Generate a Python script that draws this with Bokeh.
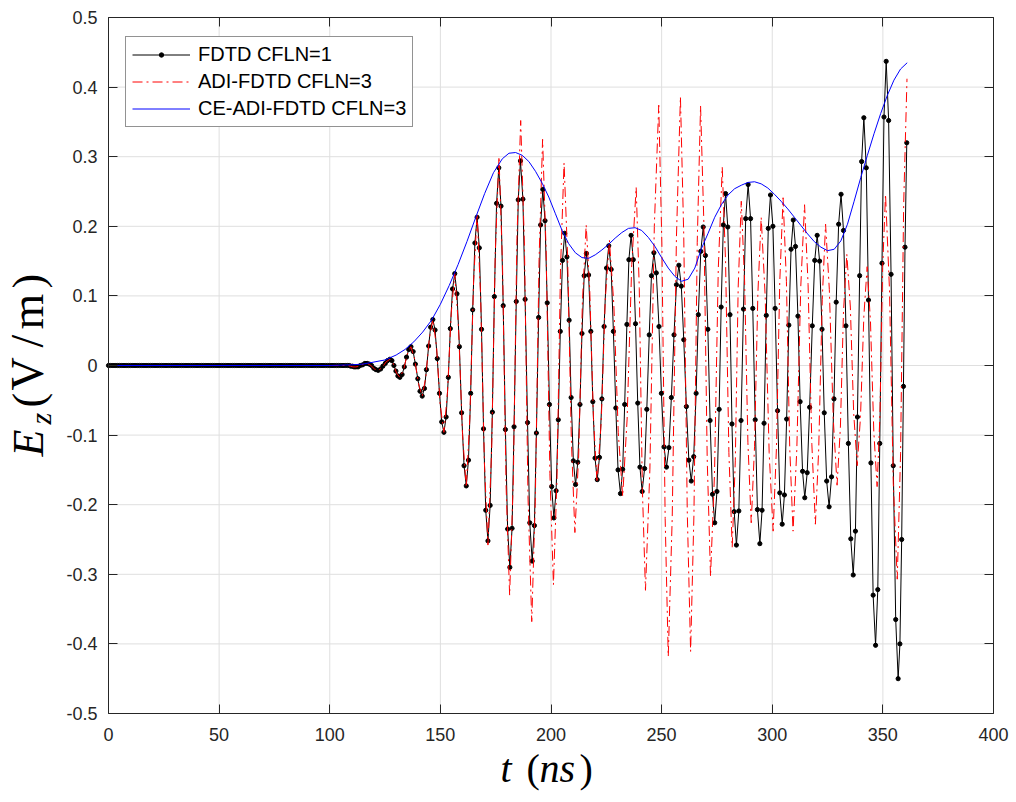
from bokeh.plotting import figure
from bokeh.models import (FixedTicker, LinearAxis, Label, Legend, LegendItem,
                          Range1d)
from bokeh.embed import file_html
from bokeh.resources import INLINE

# ---------------- data ----------------
x_ticks = [0, 50, 100, 150, 200, 250, 300, 350, 400]
y_ticks = [-0.5, -0.4, -0.3, -0.2, -0.1, 0.0, 0.1, 0.2, 0.3, 0.4, 0.5]
y_tick_labels = ["-0.5", "-0.4", "-0.3", "-0.2", "-0.1", "0",
                 "0.1", "0.2", "0.3", "0.4", "0.5"]

# FDTD CFLN=1 : quiet part (t in ns, Ez = 0)
fdtd_quiet_t = list(range(0, 108))
fdtd_quiet_v = [0.0] * 108

# FDTD CFLN=1 : active part
fdtd_t = [
    108.0, 108.8, 109.5, 110.3, 111.0,
    111.8, 112.8, 113.8, 114.9, 115.9,
    116.9, 117.9, 118.9, 119.9, 120.9,
    121.9, 123.0, 124.0, 125.1, 126.1,
    127.2, 128.1, 129.0, 129.9, 130.8,
    131.7, 132.7, 133.7, 134.7, 135.7,
    136.7, 137.7, 138.7, 139.8, 140.8,
    141.8, 142.8, 143.7, 144.7, 145.6,
    146.6, 147.6, 148.6, 149.6, 150.6,
    151.6, 152.6, 153.6, 154.5, 155.5,
    156.5, 157.5, 158.6, 159.6, 160.7,
    161.7, 162.7, 163.7, 164.6, 165.6,
    166.6, 167.6, 168.6, 169.5, 170.5,
    171.5, 172.5, 173.5, 174.4, 175.4,
    176.4, 177.4, 178.4, 179.4, 180.4,
    181.4, 182.4, 183.3, 184.3, 185.2,
    186.2, 187.3, 188.3, 189.4, 190.4,
    191.5, 192.5, 193.4, 194.4, 195.3,
    196.3, 197.3, 198.3, 199.3, 200.3,
    201.3, 202.3, 203.3, 204.2, 205.2,
    206.2, 207.2, 208.2, 209.1, 210.1,
    211.1, 212.1, 213.1, 214.0, 215.0,
    216.0, 217.0, 218.0, 218.9, 219.9,
    220.9, 221.9, 223.0, 224.0, 225.1,
    226.1, 227.2, 228.2, 229.3, 230.3,
    231.4, 232.4, 233.3, 234.3, 235.2,
    236.2, 237.2, 238.2, 239.2, 240.2,
    241.2, 242.3, 243.3, 244.4, 245.4,
    246.5, 247.6, 248.8, 249.9, 251.1,
    252.2, 253.3, 254.4, 255.6, 256.7,
    257.8, 258.9, 260.0, 261.2, 262.3,
    263.4, 264.5, 265.6, 266.6, 267.7,
    268.8, 269.8, 270.9, 271.9, 273.0,
    274.0, 275.0, 276.0, 276.9, 277.9,
    278.9, 279.9, 280.9, 281.8, 282.8,
    283.8, 284.9, 285.9, 287.0, 288.0,
    289.1, 290.2, 291.2, 292.3, 293.3,
    294.4, 295.4, 296.3, 297.3, 298.2,
    299.2, 300.3, 301.3, 302.4, 303.4,
    304.5, 305.5, 306.5, 307.5, 308.5,
    309.5, 310.5, 311.6, 312.6, 313.7,
    314.7, 315.8, 316.9, 318.1, 319.2,
    320.3, 321.4, 322.5, 323.5, 324.6,
    325.7, 326.8, 327.9, 328.9, 330.0,
    331.1, 332.2, 333.3, 334.4, 335.5,
    336.6, 337.6, 338.5, 339.5, 340.4,
    341.4, 342.5, 343.5, 344.6, 345.6,
    346.7, 347.7, 348.6, 349.6, 350.5,
    351.5, 352.6, 353.7, 354.7, 355.8,
    356.9, 357.7, 358.5, 359.3, 360.0, 360.8,
]
fdtd_v = [
    0.0, 0.0, -0.001, -0.001, -0.002,
    -0.002, -0.002, 0.0, 0.001, 0.003,
    0.003, 0.002, 0.0, -0.004, -0.006,
    -0.007, -0.005, -0.001, 0.003, 0.007,
    0.009, 0.007, 0.0, -0.008, -0.015,
    -0.017, -0.013, -0.002, 0.012, 0.023,
    0.027, 0.020, 0.002, -0.019, -0.037,
    -0.044, -0.033, -0.006, 0.028, 0.055,
    0.066, 0.051, 0.010, -0.040, -0.081,
    -0.096, -0.074, -0.017, 0.053, 0.110,
    0.132, 0.103, 0.027, -0.068, -0.144,
    -0.173, -0.136, -0.040, 0.080, 0.176,
    0.213, 0.169, 0.052, -0.091, -0.208,
    -0.252, -0.201, -0.067, 0.099, 0.233,
    0.284, 0.229, 0.086, -0.092, -0.235,
    -0.290, -0.234, -0.088, 0.092, 0.238,
    0.294, 0.239, 0.095, -0.082, -0.226,
    -0.281, -0.230, -0.097, 0.069, 0.202,
    0.253, 0.208, 0.090, -0.056, -0.174,
    -0.219, -0.180, -0.078, 0.049, 0.151,
    0.190, 0.156, 0.065, -0.046, -0.137,
    -0.171, -0.139, -0.056, 0.046, 0.129,
    0.161, 0.130, 0.049, -0.052, -0.133,
    -0.164, -0.132, -0.048, 0.056, 0.140,
    0.172, 0.138, 0.049, -0.061, -0.150,
    -0.184, -0.149, -0.056, 0.059, 0.152,
    0.187, 0.152, 0.060, -0.054, -0.146,
    -0.181, -0.148, -0.063, 0.044, 0.129,
    0.162, 0.133, 0.056, -0.040, -0.117,
    -0.146, -0.118, -0.046, 0.044, 0.116,
    0.144, 0.114, 0.037, -0.059, -0.136,
    -0.166, -0.131, -0.040, 0.073, 0.164,
    0.199, 0.158, 0.052, -0.079, -0.185,
    -0.226, -0.181, -0.063, 0.084, 0.202,
    0.247, 0.199, 0.073, -0.084, -0.210,
    -0.258, -0.209, -0.079, 0.081, 0.211,
    0.260, 0.211, 0.082, -0.078, -0.207,
    -0.256, -0.208, -0.083, 0.072, 0.197,
    0.245, 0.200, 0.082, -0.065, -0.183,
    -0.228, -0.186, -0.077, 0.058, 0.167,
    0.209, 0.171, 0.071, -0.052, -0.152,
    -0.190, -0.154, -0.060, 0.057, 0.151,
    0.187, 0.150, 0.052, -0.068, -0.166,
    -0.203, -0.160, -0.048, 0.091, 0.203,
    0.246, 0.194, 0.057, -0.112, -0.249,
    -0.301, -0.238, -0.074, 0.129, 0.293,
    0.356, 0.284, 0.094, -0.140, -0.330,
    -0.402, -0.322, -0.112, 0.147, 0.357,
    0.437, 0.352, 0.131, -0.144, -0.365,
    -0.450, -0.400, -0.250, -0.030, 0.170, 0.320,
]

# ADI-FDTD CFLN=3
adi_t = [
    0.0,
    108.0, 109.3, 110.5, 111.8, 113.5, 115.2, 116.9, 118.6, 120.2,
    121.9, 123.7, 125.4, 127.2, 128.7, 130.2, 131.7, 133.4, 135.0,
    136.7, 138.4, 140.1, 141.8, 143.4, 145.0, 146.6, 148.3, 149.9,
    151.6, 153.2, 154.9, 156.5, 158.2, 160.0, 161.7, 163.3, 165.0,
    166.6, 168.2, 169.9, 171.5, 173.2, 174.8, 176.5, 178.1, 179.7,
    181.3, 183.0, 184.6, 186.3, 188.0, 189.6, 191.3, 192.9, 194.6,
    196.2, 197.8, 199.5, 201.1, 202.7, 204.3, 205.9, 207.5, 209.2,
    210.8, 212.5, 214.2, 215.9, 217.5, 219.2, 220.8, 222.7, 224.5,
    226.4, 228.4, 230.4, 232.4, 234.4, 236.5, 238.5, 239.9, 241.3,
    242.7, 244.7, 246.7, 248.7, 250.1, 251.6, 253.0, 254.8, 256.7,
    258.5, 260.0, 261.6, 263.1, 264.6, 266.1, 267.6, 269.1, 270.6,
    272.1, 273.9, 275.6, 277.4, 278.9, 280.4, 281.9, 283.3, 284.6,
    286.0, 287.5, 289.0, 290.5, 292.0, 293.5, 295.0, 296.8, 298.6,
    300.4, 301.9, 303.4, 304.9, 306.4, 307.9, 309.4, 311.1, 312.9,
    314.6, 316.2, 317.9, 319.5, 321.0, 322.6, 324.1, 325.8, 327.6,
    329.3, 330.8, 332.2, 333.7, 335.3, 336.8, 338.4, 339.9, 341.4,
    342.9, 344.4, 345.9, 347.4, 348.7, 349.9, 351.2, 353.0, 354.7,
    356.5, 358.0, 359.4, 360.9,
]
adi_v = [
    0.0,
    0.0, -0.001, -0.002, -0.002, -0.001, 0.002, 0.003, 0.0, -0.005,
    -0.007, -0.003, 0.005, 0.009, 0.003, -0.011, -0.017, -0.006, 0.016,
    0.027, 0.009, -0.026, -0.044, -0.017, 0.039, 0.066, 0.026, -0.056,
    -0.096, -0.039, 0.075, 0.132, 0.055, -0.098, -0.175, -0.077, 0.120,
    0.218, 0.099, -0.139, -0.258, -0.119, 0.161, 0.300, 0.143, -0.173,
    -0.330, -0.160, 0.182, 0.352, 0.172, -0.188, -0.368, -0.195, 0.152,
    0.325, 0.165, -0.155, -0.315, -0.164, 0.140, 0.291, 0.158, -0.107,
    -0.240, -0.130, 0.092, 0.202, 0.110, -0.076, -0.168, -0.081, 0.093,
    0.180, 0.088, -0.096, -0.188, -0.077, 0.145, 0.256, 0.111, -0.178,
    -0.323, -0.149, 0.200, 0.374, 0.176, -0.220, -0.418, -0.217, 0.185,
    0.386, 0.187, -0.212, -0.411, -0.215, 0.177, 0.373, 0.204, -0.134,
    -0.303, -0.156, 0.138, 0.285, 0.149, -0.125, -0.261, -0.137, 0.112,
    0.236, 0.121, -0.111, -0.226, -0.116, 0.103, 0.213, 0.100, -0.125,
    -0.238, -0.118, 0.121, 0.241, 0.121, -0.118, -0.238, -0.121, 0.114,
    0.231, 0.116, -0.113, -0.228, -0.120, 0.095, 0.203, 0.109, -0.078,
    -0.172, -0.089, 0.077, 0.160, 0.084, -0.068, -0.144, -0.073, 0.071,
    0.142, 0.063, -0.095, -0.174, -0.069, 0.141, 0.246, 0.108, -0.169,
    -0.307, -0.127, 0.232, 0.412,
]

# CE-ADI-FDTD CFLN=3
ce_t = [0, 100, 105, 110, 115, 120, 125, 130, 134, 138, 142, 146, 150, 154,
        158, 162, 166, 170, 174, 178, 181, 184, 187, 190, 193, 196, 199, 202,
        205, 208, 211, 214, 217, 220, 223, 226, 229, 232, 235, 238, 241, 244,
        247, 250, 253, 256, 259, 262, 265, 268, 271, 274, 277, 280, 283, 286,
        289, 292, 295, 298, 301, 304, 307, 310, 313, 316, 319, 322, 325, 328,
        331, 334, 337, 340, 343, 346, 349, 352, 355, 358, 361]
ce_v = [0.0, 0.0, 0.0005, 0.001, 0.002, 0.005, 0.008, 0.015, 0.023, 0.034,
        0.048, 0.065, 0.088, 0.115, 0.145, 0.178, 0.213, 0.247, 0.277, 0.297,
        0.305, 0.306, 0.302, 0.293, 0.279, 0.262, 0.242, 0.218, 0.194, 0.175,
        0.162, 0.155, 0.154, 0.159, 0.166, 0.174, 0.183, 0.191, 0.197, 0.198,
        0.194, 0.184, 0.171, 0.155, 0.140, 0.128, 0.121, 0.124, 0.140, 0.168,
        0.190, 0.213, 0.231, 0.245, 0.254, 0.259, 0.263, 0.264, 0.261, 0.255,
        0.246, 0.236, 0.225, 0.213, 0.201, 0.189, 0.178, 0.170, 0.165, 0.167,
        0.179, 0.203, 0.236, 0.270, 0.302, 0.333, 0.362, 0.388, 0.410, 0.426,
        0.435]

series_names = ["FDTD CFLN=1", "ADI-FDTD CFLN=3", "CE-ADI-FDTD CFLN=3"]

# ---------------- layout (pixels) ----------------
W, H = 1016, 802
BOX_L, BOX_R, BOX_T, BOX_B = 108, 993, 17, 713
x0, x1 = x_ticks[0], x_ticks[-1]
y0, y1 = y_ticks[0], y_ticks[-1]
sx = (BOX_R - BOX_L) / (x1 - x0)      # px per ns
sy = (BOX_B - BOX_T) / (y1 - y0)      # px per V/m

# The frame fills the whole canvas so that the axis titles (text labels)
# can sit outside the axes box without being clipped.
p = figure(width=W, height=H,
           x_range=Range1d(x0 - BOX_L / sx, x1 + (W - BOX_R) / sx),
           y_range=Range1d(y0 - (H - BOX_B) / sy, y1 + BOX_T / sy),
           output_backend="svg", toolbar_location=None,
           x_axis_type=None, y_axis_type=None,
           min_border_left=0, min_border_right=0, min_border_top=0,
           min_border_bottom=0)
p.background_fill_color = "white"
p.border_fill_color = "white"
p.outline_line_color = None
p.grid.visible = False

AX = "#262626"
GRID = "#dfdfdf"

# grid lines at the tick positions, inside the axes box
p.segment(x0=x_ticks[1:-1], y0=y0, x1=x_ticks[1:-1], y1=y1,
          line_color=GRID, line_width=1)
p.segment(x0=x0, y0=y_ticks[1:-1], x1=x1, y1=y_ticks[1:-1],
          line_color=GRID, line_width=1)


def style_axis(ax, ticks, bounds, show_labels):
    ax.ticker = FixedTicker(ticks=ticks)
    ax.bounds = bounds
    ax.axis_line_color = AX
    ax.axis_line_width = 1
    ax.major_tick_line_color = AX
    ax.major_tick_line_width = 1
    ax.major_tick_in = 9
    ax.major_tick_out = 0
    ax.minor_tick_line_color = None
    ax.major_label_text_font = "Liberation Sans"
    ax.major_label_text_font_size = "18px"
    ax.major_label_text_color = AX
    if not show_labels:
        ax.major_label_overrides = {t: "" for t in ticks}
        ax.major_label_standoff = 0


xb = LinearAxis(fixed_location=y0)
style_axis(xb, x_ticks, (x0, x1), True)
xb.major_label_standoff = 14
p.add_layout(xb, "below")

yl = LinearAxis(fixed_location=x0)
style_axis(yl, y_ticks, (y0, y1), True)
yl.major_label_overrides = {v: s for v, s in zip(y_ticks, y_tick_labels)}
yl.major_label_standoff = 11
p.add_layout(yl, "left")

xa = LinearAxis(fixed_location=y1)
style_axis(xa, x_ticks, (x0, x1), False)
p.add_layout(xa, "above")
yr = LinearAxis(fixed_location=x1)
style_axis(yr, y_ticks, (y0, y1), False)
p.add_layout(yr, "right")

# ---------------- series ----------------
t_all = fdtd_quiet_t + fdtd_t
v_all = fdtd_quiet_v + fdtd_v
r_fl = p.line(t_all, v_all, line_color="black", line_width=1)
r_fd = p.scatter(t_all, v_all, marker="circle", size=4.2,
                 fill_color="black", line_color="black")
r_adi = p.line(adi_t, adi_v, line_color="#ff0000", line_width=1,
               line_dash="10 4 2 4")
r_ce = p.line(ce_t, ce_v, line_color="#0000ff", line_width=1)

legend = Legend(items=[
    LegendItem(label=series_names[0], renderers=[r_fl, r_fd]),
    LegendItem(label=series_names[1], renderers=[r_adi]),
    LegendItem(label=series_names[2], renderers=[r_ce]),
], location=(125, H - 127))
legend.margin = 0
legend.padding = 6
legend.spacing = 4
legend.glyph_width = 58
legend.glyph_height = 11
legend.label_height = 20
legend.label_standoff = 8
legend.label_text_font = "Liberation Sans"
legend.label_text_font_size = "20px"
legend.label_text_color = "black"
legend.border_line_color = AX
legend.border_line_width = 1
legend.background_fill_color = "white"
legend.background_fill_alpha = 1.0
p.add_layout(legend)

# ---------------- axis titles (math style, as real text) ----------------
SERIF = "Liberation Serif"
SHIFT = 0.3375   # where Bokeh puts the alphabetic baseline, in font sizes


def px_x(px):
    return x0 + (px - BOX_L) / sx


def px_y(py):
    return y1 - (py - BOX_T) / sy


def title_piece(text, px, py, size, italic, rotated=False):
    # (px, py): start of the text on its baseline, in canvas pixels
    if rotated:
        ax_, ay_ = px - SHIFT * size, py
    else:
        ax_, ay_ = px, py - SHIFT * size
    p.add_layout(Label(x=px_x(ax_), y=px_y(ay_), text=text, text_font=SERIF,
                       text_font_style="italic" if italic else "normal",
                       text_font_size=f"{size}px", text_color="black",
                       text_baseline="alphabetic",
                       angle=1.5707963267948966 if rotated else 0.0))


# x title:  t (ns)
title_piece("t", 500, 781, 40, True)
title_piece("(", 526, 781, 40, False)
title_piece("ns", 539, 781, 40, True)
title_piece(")", 579, 781, 40, False)

# y title:  E_z (V/m)   (rotated, reading upwards)
title_piece("E", 43, 456, 44, True, rotated=True)
title_piece("z", 50, 424, 30, True, rotated=True)
title_piece("(", 43, 407, 44, False, rotated=True)
title_piece("V", 43, 390, 46, False, rotated=True)
title_piece("/", 43, 347, 46, False, rotated=True)
title_piece("m", 43, 329, 46, False, rotated=True)
title_piece(")", 43, 288, 44, False, rotated=True)

open("out.html", "w").write(file_html(p, INLINE))
